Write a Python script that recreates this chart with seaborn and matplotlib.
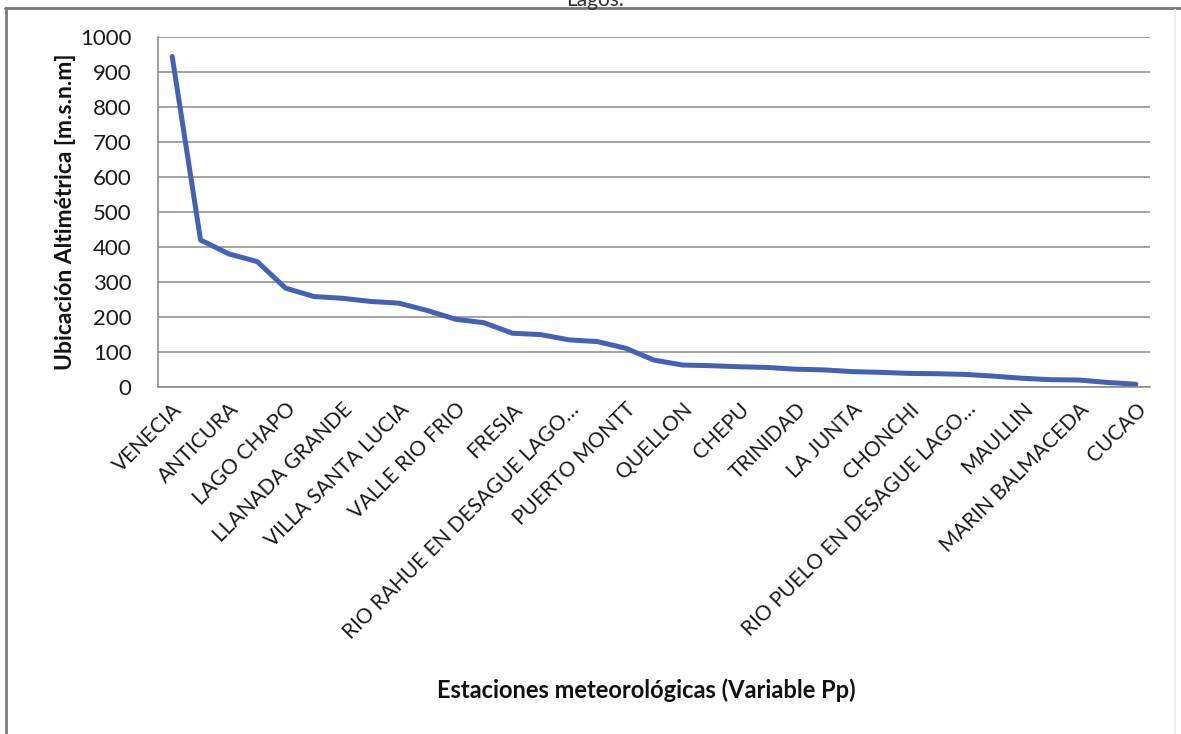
import numpy as np
import pandas as pd
import matplotlib
matplotlib.use("Agg")
import matplotlib.pyplot as plt
from matplotlib.lines import Line2D
import seaborn as sns

# Altitud de cada estación (m.s.n.m), ordenadas de mayor a menor
altitud = [945, 420, 380, 358, 282, 258, 253, 244, 239, 218,
           193, 183, 153, 149, 134, 129, 110, 76, 62, 60,
           57, 55, 50, 48, 43, 41, 38, 37, 35, 30,
           24, 20, 19, 12, 7]

# Nombres visibles en el eje (una de cada dos estaciones)
etiquetas = ["VENECIA", "ANTICURA", "LAGO CHAPO", "LLANADA GRANDE",
             "VILLA SANTA LUCIA", "VALLE RIO FRIO", "FRESIA",
             "RIO RAHUE EN DESAGUE LAGO…", "PUERTO MONTT", "QUELLON",
             "CHEPU", "TRINIDAD", "LA JUNTA", "CHONCHI",
             "RIO PUELO EN DESAGUE LAGO…", "MAULLIN", "MARIN BALMACEDA",
             "CUCAO"]

y_ticks = list(range(0, 1001, 100))

df = pd.DataFrame({"pos": np.arange(len(altitud)), "alt": altitud})

sns.set_theme(style="white")
plt.rcParams["font.family"] = ["Lato", "DejaVu Sans"]

fig = plt.figure(figsize=(11.81, 7.34), dpi=100)
ax = fig.add_axes([0.1338, 0.4732, 0.8400, 0.4760])

sns.lineplot(data=df, x="pos", y="alt", ax=ax, color="#4462b4",
             linewidth=3.6, solid_joinstyle="round", solid_capstyle="round")

ax.set_xlim(-0.5, len(altitud) - 0.5)
ax.set_ylim(0, 1000)
ax.set_yticks(y_ticks)
ax.set_yticklabels([str(v) for v in y_ticks], fontsize=16, color="#1a1a1a")

# category boundaries carry the tick marks, labels sit on every other category
ax.set_xticks(np.arange(0, len(altitud), 2))
ax.set_xticklabels(etiquetas, rotation=45, ha="right", rotation_mode="anchor",
                   fontsize=15, color="#1a1a1a")
ax.set_xticks(np.arange(-0.5, len(altitud), 1), minor=True)
ax.tick_params(axis="x", which="major", length=0, pad=9)
ax.tick_params(axis="x", which="minor", length=5, width=1, color="#868686",
               direction="out")
ax.tick_params(axis="y", length=5, width=1, color="#868686", direction="out", pad=14)

ax.yaxis.grid(True, color="#8a8a8a", linewidth=1.1)
ax.xaxis.grid(False)
for side in ["top", "right"]:
    ax.spines[side].set_visible(False)
for side in ["left", "bottom"]:
    ax.spines[side].set_color("#868686")
    ax.spines[side].set_linewidth(1.1)

ax.set_xlabel("")
ax.set_ylabel("Ubicación Altimétrica [m.s.n.m]", fontsize=16.5,
              fontweight="bold", color="#111111", labelpad=3)
fig.text(0.547, 0.06, "Estaciones meteorológicas (Variable Pp)",
         ha="center", va="center", fontsize=17, fontweight="bold",
         color="#111111")

# título recortado en el borde superior
fig.text(0.504, 1 - 6 / 734, "Lagos.", ha="center", va="baseline",
         fontsize=15, color="#333333")

# marco exterior del gráfico
W, H = 1181, 734
fig.add_artist(Line2D([5 / W, 1.0], [1 - 8 / H, 1 - 8 / H],
                      transform=fig.transFigure, color="#7a7a7a", lw=2))
fig.add_artist(Line2D([6 / W, 6 / W], [0.0, 1 - 8 / H],
                      transform=fig.transFigure, color="#7a7a7a", lw=2))
fig.add_artist(Line2D([1175 / W, 1175 / W], [0.0, 1 - 10 / H],
                      transform=fig.transFigure, color="#ededed", lw=1.5))

fig.savefig("out.png", dpi=100)
